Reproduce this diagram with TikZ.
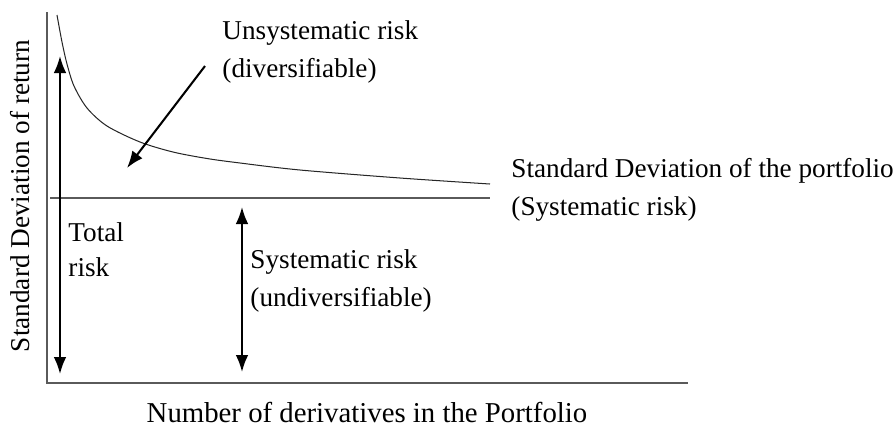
\documentclass[tikz,border=0pt]{standalone}
\usepackage{fontspec}
\setmainfont{Liberation Serif}
\usetikzlibrary{arrows.meta,calc}
\tikzset{>={Latex[length=7.5pt,width=5.6pt]}}
\tikzset{risklabel/.style={inner sep=0pt,anchor=west,align=left}}
\tikzset{riskarrow/.style={<->,line width=0.9pt}}
\definecolor{axisgray}{RGB}{90,90,90}

\begin{document}
\begin{tikzpicture}[x=0.0155cm,y=-0.0155cm,font=\fontsize{12}{17}\selectfont]
  \useasboundingbox (0,0) rectangle (896,427);

  % axes
  \coordinate (o) at (47,383);
  \coordinate (ytop) at (47,12);
  \coordinate (xend) at (688,383);
  \draw[axisgray,line width=0.7pt] (ytop) -- (o) -- (xend);
  \node[rotate=90,inner sep=0pt] (ylab) at (20,196) {Standard Deviation of return};
  \node[inner sep=0pt,font=\fontsize{12.7}{17}\selectfont] (xlab) at (367,412) {Number of derivatives in the Portfolio};

  % systematic risk level
  \coordinate (s0) at (50,198);
  \coordinate (s1) at (490,198);
  \draw[axisgray,line width=0.6pt] (s0) -- (s1);

  % portfolio standard deviation
  \draw[black!85,line width=0.45pt] plot[smooth] coordinates {(57,15) (62,42) (67,64) (74,86) (87,108) (107,126) (140,142) (173,152) (207,158.5) (240,163) (300,170) (400,178) (490,184)};
  \node[risklabel] (sdp) at (511,190) {Standard Deviation of the portfolio\\(Systematic risk)};

  % unsystematic risk
  \node[risklabel] (unsys) at (222,52) {Unsystematic risk\\(diversifiable)};
  \coordinate (u0) at (205,66);
  \coordinate (u1) at (127,168);
  \draw[->,line width=0.9pt] (u0) -- (u1);

  % total risk
  \coordinate (t0) at (60,56);
  \coordinate (t1) at (60,374);
  \draw[riskarrow] (t0) -- (t1);
  \node[risklabel,font=\fontsize{12}{15.5}\selectfont] (total) at (68,250) {Total\\risk};

  % systematic risk
  \coordinate (m0) at (242,207);
  \coordinate (m1) at (242,372);
  \draw[riskarrow] (m0) -- (m1);
  \node[risklabel] (sys) at (250,281) {Systematic risk\\(undiversifiable)};
\end{tikzpicture}
\end{document}
